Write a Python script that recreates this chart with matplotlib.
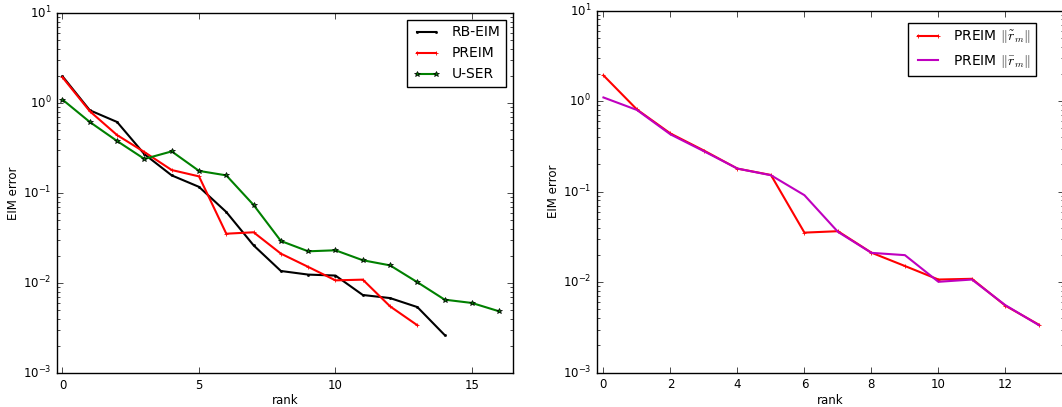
import matplotlib
matplotlib.use('Agg')
import matplotlib.pyplot as plt

plt.style.use('classic')
plt.rcParams['figure.facecolor'] = 'white'
plt.rcParams['savefig.facecolor'] = 'white'
plt.rcParams['font.size'] = 8.5

# error vs rank
rank_rb = list(range(15))
err_rb = [1.98, 0.83, 0.615, 0.27, 0.157, 0.117, 0.0615, 0.0262, 0.0136,
          0.0124, 0.0121, 0.00736, 0.0068, 0.0054, 0.00264]

rank_pr = list(range(14))
err_pr = [1.93, 0.81, 0.44, 0.285, 0.18, 0.153, 0.0353, 0.0366, 0.0212,
          0.0151, 0.0107, 0.0109, 0.0055, 0.00339]

rank_us = list(range(17))
err_us = [1.09, 0.615, 0.378, 0.239, 0.29, 0.176, 0.157, 0.0736, 0.0293,
          0.0225, 0.0231, 0.0179, 0.0157, 0.0102, 0.00653, 0.0060, 0.00484]

rank_bar = list(range(14))
err_bar = [1.10, 0.80, 0.43, 0.28, 0.18, 0.152, 0.0915, 0.036, 0.0211,
           0.0199, 0.0101, 0.0107, 0.00557, 0.00335]

fig = plt.figure(figsize=(10.62, 4.07), dpi=100)

ax1 = fig.add_axes([0.0537, 0.0835, 0.4293, 0.8846])
ax1.semilogy(rank_rb, err_rb, 'k.-', lw=1.5, ms=3, label='RB-EIM')
ax1.semilogy(rank_pr, err_pr, 'r+-', lw=1.5, ms=3, mew=0.6, label='PREIM')
ax1.semilogy(rank_us, err_us, 'g*-', lw=1.5, ms=4, label='U-SER')
ax1.set_xlim(-0.2, 16.5)
ax1.set_ylim(1e-3, 1e1)
ax1.set_xticks([0, 5, 10, 15])
ax1.set_xlabel('rank', labelpad=2)
ax1.set_ylabel('EIM error', labelpad=2)
ax1.legend(loc='upper right', fontsize=10, numpoints=2, borderaxespad=0.5)

ax2 = fig.add_axes([0.5619, 0.0843, 0.4400, 0.8894])
ax2.semilogy(rank_pr, err_pr, 'r+-', lw=1.5, ms=3, mew=0.6,
             label=r'PREIM $\|\tilde{r}_m\|$')
ax2.semilogy(rank_bar, err_bar, '-', color='#bf00bf', lw=1.5,
             label=r'PREIM $\|\bar{r}_m\|$')
ax2.set_xlim(-0.2, 13.75)
ax2.set_ylim(1e-3, 1e1)
ax2.set_xticks([0, 2, 4, 6, 8, 10, 12])
ax2.set_xlabel('rank', labelpad=2)
ax2.set_ylabel('EIM error', labelpad=2)
ax2.legend(loc='upper right', fontsize=10, numpoints=2,
           bbox_to_anchor=(0.955, 0.985))

for ax in (ax1, ax2):
    ax.tick_params(labelsize=8.5)

fig.savefig('out.png', dpi=100)
